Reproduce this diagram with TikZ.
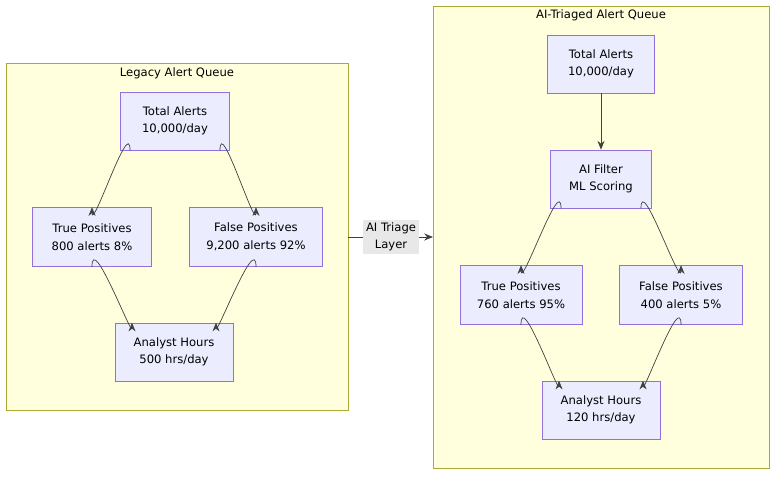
\documentclass[tikz,border=0pt]{standalone}
\usepackage{fontspec}
\setmainfont{DejaVu Sans}
\usetikzlibrary{arrows.meta}
\definecolor{clfill}{HTML}{FFFFDE}
\definecolor{cldraw}{HTML}{AAAA33}
\definecolor{ndfill}{HTML}{ECECFF}
\definecolor{nddraw}{HTML}{9370DB}
\definecolor{lblfill}{HTML}{E8E8E8}
\tikzset{
  box/.style={draw=nddraw, fill=ndfill, align=center, inner sep=0pt, font=\fontsize{6.6}{10}\selectfont},
  cluster/.style={draw=cldraw, fill=clfill},
  edge/.style={draw=black!75, -{Stealth[length=5pt,width=4pt]}},
}
\begin{document}
\begin{tikzpicture}[x=0.02cm, y=-0.02cm]
  \useasboundingbox (0,0) rectangle (784,480);
  % clusters
  \draw[cluster] (6,63) rectangle (348,410);
  \node[font=\fontsize{6.6}{8}\selectfont] (legacyT) at (177,73) {Legacy Alert Queue};
  \draw[cluster] (433,6) rectangle (769,468);
  \node[font=\fontsize{6.6}{8}\selectfont] (aiT) at (601,15) {AI-Triaged Alert Queue};
  % legacy nodes
  \node[box, minimum width=109*0.02cm, minimum height=58*0.02cm] (lTotal) at (175,121) {Total Alerts\\10,000/day};
  \node[box, minimum width=119*0.02cm, minimum height=59*0.02cm] (lTP) at (92,237) {True Positives\\800 alerts 8\%};
  \node[box, minimum width=133*0.02cm, minimum height=59*0.02cm] (lFP) at (256,237) {False Positives\\9,200 alerts 92\%};
  \node[box, minimum width=118*0.02cm, minimum height=58*0.02cm] (lHours) at (174,352) {Analyst Hours\\500 hrs/day};
  % ai nodes
  \node[box, minimum width=107*0.02cm, minimum height=58*0.02cm] (aTotal) at (601,64) {Total Alerts\\10,000/day};
  \node[box, minimum width=101*0.02cm, minimum height=58*0.02cm] (aFilter) at (601,179) {AI Filter\\ML Scoring};
  \node[box, minimum width=122*0.02cm, minimum height=59*0.02cm] (aTP) at (521,295) {True Positives\\760 alerts 95\%};
  \node[box, minimum width=123*0.02cm, minimum height=59*0.02cm] (aFP) at (681,295) {False Positives\\400 alerts 5\%};
  \node[box, minimum width=118*0.02cm, minimum height=58*0.02cm] (aHours) at (601,410) {Analyst Hours\\120 hrs/day};
  % legacy edges
  \draw[edge] ([xshift=-45*0.02cm]lTotal.south) .. controls +(0,35*0.02cm) and +(0,-25*0.02cm) .. (lTP.north);
  \draw[edge] ([xshift=45*0.02cm]lTotal.south) .. controls +(0,35*0.02cm) and +(0,-25*0.02cm) .. (lFP.north);
  \draw[edge] (lTP.south) .. controls +(0,35*0.02cm) and +(0,-15*0.02cm) .. ([xshift=-42*0.02cm]lHours.north);
  \draw[edge] (lFP.south) .. controls +(0,35*0.02cm) and +(0,-15*0.02cm) .. ([xshift=42*0.02cm]lHours.north);
  % ai edges
  \draw[edge] (aTotal) -- (aFilter);
  \draw[edge] ([xshift=-40*0.02cm]aFilter.south) .. controls +(0,35*0.02cm) and +(0,-25*0.02cm) .. (aTP.north);
  \draw[edge] ([xshift=40*0.02cm]aFilter.south) .. controls +(0,35*0.02cm) and +(0,-25*0.02cm) .. (aFP.north);
  \draw[edge] (aTP.south) .. controls +(0,35*0.02cm) and +(0,-15*0.02cm) .. ([xshift=-42*0.02cm]aHours.north);
  \draw[edge] (aFP.south) .. controls +(0,35*0.02cm) and +(0,-15*0.02cm) .. ([xshift=42*0.02cm]aHours.north);
  % link between queues
  \coordinate (lEdge) at (348,237);
  \coordinate (aEdge) at (433,237);
  \draw[edge] (lEdge) -- (aEdge);
  \node[fill=lblfill, align=center, inner sep=1.5pt, font=\fontsize{6.6}{10}\selectfont] (triage) at (391,237) {AI Triage\\Layer};
\end{tikzpicture}
\end{document}
